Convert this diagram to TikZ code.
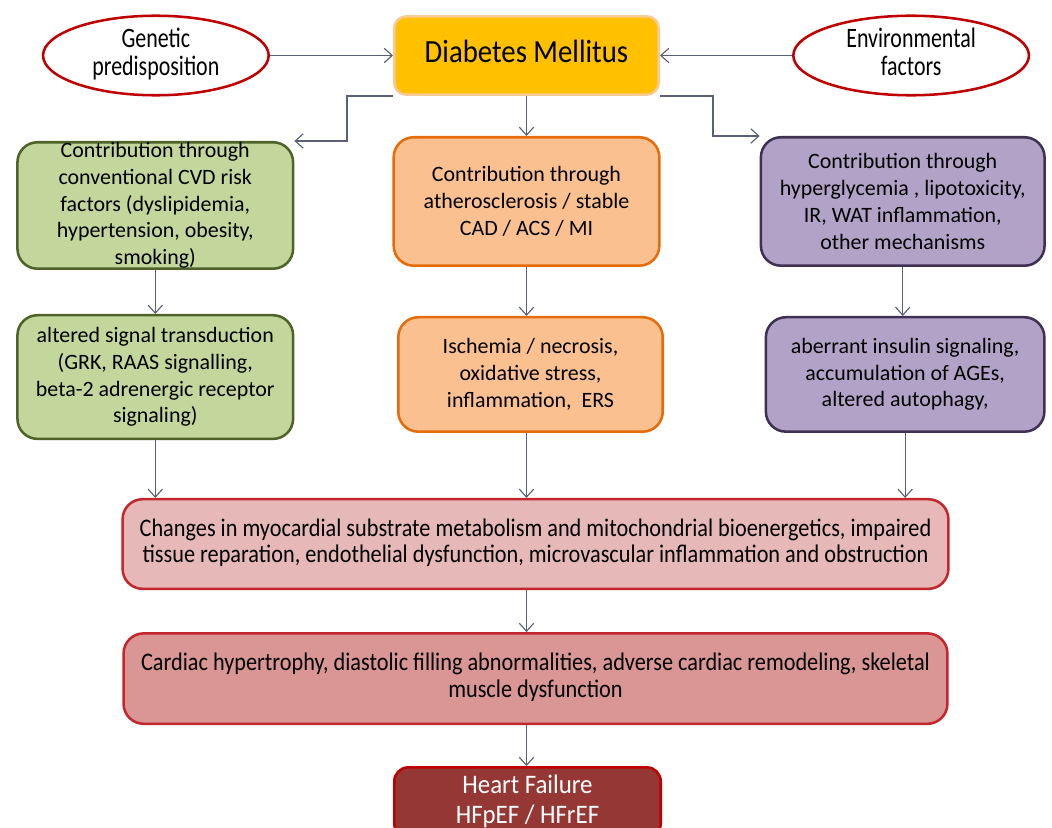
\documentclass[tikz,border=0pt]{standalone}
\usepackage{fontspec}
\setmainfont{Carlito}
\usetikzlibrary{positioning}
\usetikzlibrary{shapes.geometric}
\usetikzlibrary{arrows.meta}

\definecolor{dmfill}{HTML}{FFC000}
\definecolor{dmline}{HTML}{F8CB96}
\definecolor{causeline}{HTML}{C00000}
\definecolor{greenfill}{HTML}{C3D69B}
\definecolor{greenline}{HTML}{4F6228}
\definecolor{orangefill}{HTML}{FAC090}
\definecolor{orangeline}{HTML}{E46C0A}
\definecolor{purplefill}{HTML}{B3A2C7}
\definecolor{purpleline}{HTML}{3F3151}
\definecolor{changesfill}{HTML}{E6B9B8}
\definecolor{cardiacfill}{HTML}{D99694}
\definecolor{redline}{HTML}{C4262E}
\definecolor{hffill}{HTML}{953735}
\definecolor{linkgray}{HTML}{5A6075}

\newcommand{\narrowtext}[2][0.85]{\scalebox{#1}[1]{\begin{tabular}{@{}c@{}}#2\end{tabular}}}

\tikzset{
  box/.style={rectangle, rounded corners=0.5cm, line width=1.8pt, align=center,
    inner sep=0pt, font=\fontsize{15.6}{19}\selectfont},
  greenbox/.style={box, draw=greenline, fill=greenfill, minimum width=6.89cm, minimum height=3.16cm},
  orangebox/.style={box, draw=orangeline, fill=orangefill, minimum width=6.64cm, minimum height=3.21cm},
  purplebox/.style={box, draw=purpleline, fill=purplefill, minimum width=7.09cm, minimum height=3.21cm},
  changesbox/.style={box, draw=redline, fill=changesfill, minimum width=20.64cm, minimum height=2.24cm,
    font=\fontsize{18}{19}\selectfont},
  cardiacbox/.style={box, draw=redline, fill=cardiacfill, minimum width=20.59cm, minimum height=2.26cm,
    font=\fontsize{18}{19}\selectfont},
  hfbox/.style={box, draw=causeline, fill=hffill, text=white, minimum width=6.66cm, minimum height=1.75cm,
    rounded corners=0.35cm, font=\fontsize{19}{21}\selectfont},
  dmbox/.style={box, draw=dmline, fill=dmfill, minimum width=6.61cm, minimum height=1.96cm,
    rounded corners=0.3cm, font=\fontsize{23}{26}\selectfont},
  cause/.style={ellipse, draw=causeline, fill=white, line width=1.8pt, inner sep=0pt,
    minimum width=5.64cm, minimum height=1.91cm, font=\fontsize{20}{20}\selectfont},
  link/.style={draw=linkgray, line width=0.8pt, -{Straight Barb[length=2mm,width=3.6mm]}},
}

\begin{document}
\begin{tikzpicture}[x=0.025cm, y=-0.025cm]
  \useasboundingbox (0,0) rectangle (1052,828);
  \clip (0,0) rectangle (1052,828);

  \node[dmbox] (dm) at (526.5,55.5) {\narrowtext[0.89]{Diabetes Mellitus}};
  \node[cause, left=3.075cm of dm] (gen) {\narrowtext[0.78]{Genetic\\predisposition}};
  \node[cause, right=3.3cm of dm, minimum width=5.89cm] (env) {\narrowtext[0.78]{Environmental\\factors}};

  \node[orangebox, below=1cm of dm] (athero)
    {Contribution through\\atherosclerosis / stable\\CAD / ACS / MI};
  \node[greenbox, left=2.45cm of athero, yshift=-0.1cm] (cvd)
    {Contribution through\\conventional CVD risk\\factors (dyslipidemia,\\hypertension, obesity,\\smoking)};
  \node[purplebox, right=2.475cm of athero] (hyper)
    {Contribution through\\hyperglycemia , lipotoxicity,\\IR, WAT inflammation,\\other mechanisms};

  \node[greenbox, below=1.1cm of cvd, minimum height=3.09cm] (signal)
    {altered signal transduction\\(GRK, RAAS signalling,\\beta-2 adrenergic receptor\\signaling)};
  \node[orangebox, below=1.225cm of athero, minimum width=6.61cm, minimum height=2.86cm, xshift=0.1cm] (isch)
    {Ischemia / necrosis,\\oxidative stress,\\inflammation,\ \ ERS};
  \node[purplebox, below=1.225cm of hyper, minimum width=6.96cm, minimum height=2.86cm, xshift=0.06cm] (aber)
    {aberrant insulin signaling,\\accumulation of AGEs,\\altered autophagy,};

  \node[changesbox, below=1.625cm of isch, xshift=0.125cm] (changes)
    {\narrowtext[0.88]{Changes in myocardial substrate metabolism and mitochondrial bioenergetics, impaired\\tissue reparation, endothelial dysfunction, microvascular inflammation and obstruction}};
  \node[cardiacbox, below=1.05cm of changes] (cardiac)
    {\narrowtext[0.88]{Cardiac hypertrophy, diastolic filling abnormalities, adverse cardiac remodeling, skeletal\\muscle dysfunction}};
  \node[hfbox, below=1.025cm of cardiac, xshift=-0.2cm] (hf)
    {\narrowtext[0.93]{Heart Failure\\HFpEF / HFrEF}};

  \draw[link] (gen) -- (dm);
  \draw[link] (env) -- (dm);
  \draw[link] (dm) -- (athero);
  \draw[link] (dm.south west) -- ++(-46,0) |- (cvd.north east);
  \draw[link] (dm.south east) -- ++(53,0) |- (hyper.north west);

  \draw[link] (cvd) -- (signal);
  \draw[link] (dm |- athero.south) -- (dm |- isch.north);
  \draw[link] (hyper) -- (hyper |- aber.north);

  \draw[link] (signal) -- (signal |- changes.north);
  \draw[link] (dm |- isch.south) -- (dm |- changes.north);
  \draw[link] (aber) -- (aber |- changes.north);

  \draw[link] (dm |- changes.south) -- (dm |- cardiac.north);
  \draw[link] (dm |- cardiac.south) -- (dm |- hf.north);
\end{tikzpicture}
\end{document}
